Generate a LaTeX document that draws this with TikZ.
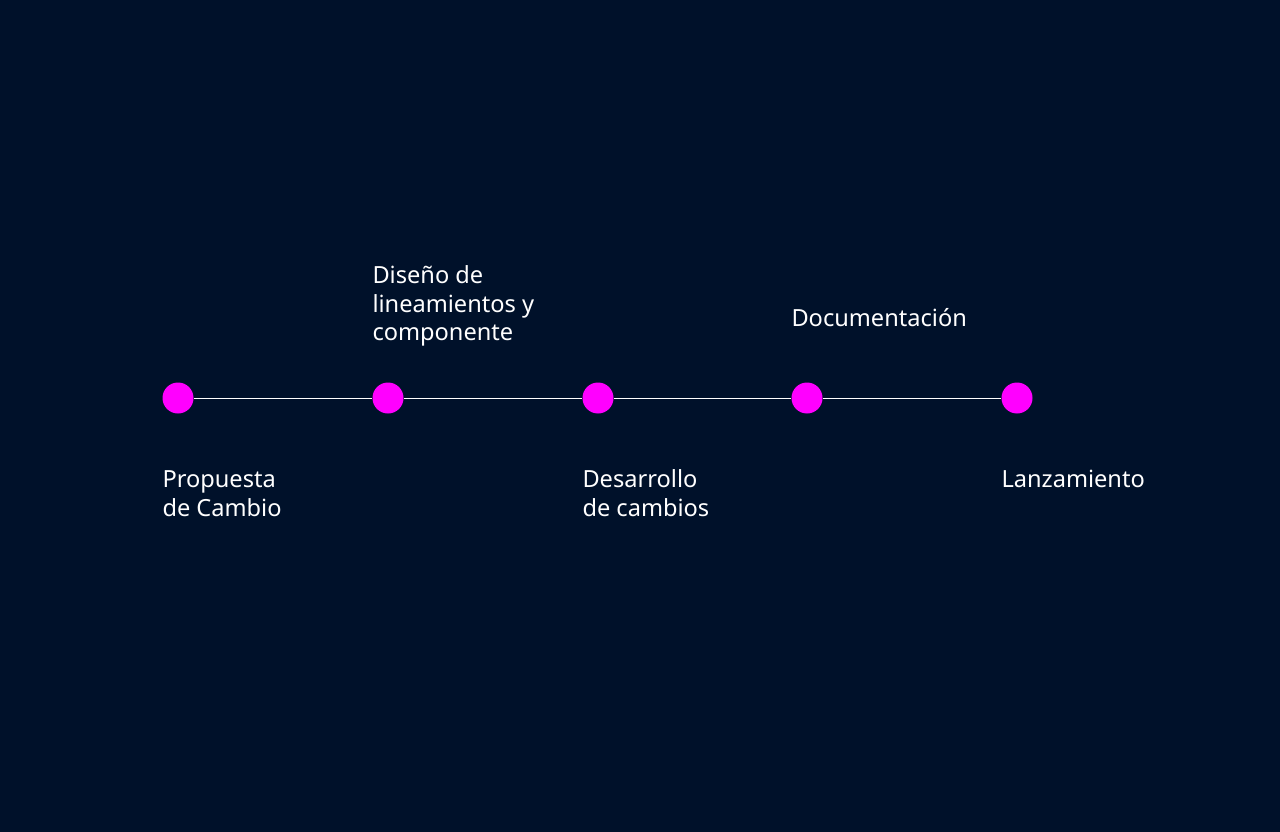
\documentclass[tikz,border=0pt]{standalone}
\usepackage{fontspec}
\setmainfont{Noto Sans}
\usetikzlibrary{positioning}

\definecolor{bgnavy}{HTML}{00112A}
\definecolor{dotmag}{HTML}{FF00FF}

\tikzset{
    hito/.style={circle, fill=dotmag, minimum size=31pt, inner sep=0pt},
    etiqueta/.style={text=white, inner sep=0pt, align=left,
        font=\fontsize{23.6pt}{28.7pt}\selectfont},
    enlace/.style={white, line width=1pt}
}

\begin{document}
\begin{tikzpicture}[x=1pt, y=-1pt]
    \fill[bgnavy] (0,0) rectangle (1280,832);
    \useasboundingbox (0,0) rectangle (1280,832);
    % hitos de la linea de tiempo
    \node[hito] (propuesta) at (178,398) {};
    \node[hito] (diseno) at (388,398) {};
    \node[hito] (desarrollo) at (598,398) {};
    \node[hito] (documentacion) at (807,398) {};
    \node[hito] (lanzamiento) at (1017,398) {};
    \draw[enlace] (propuesta) -- (diseno);
    \draw[enlace] (diseno) -- (desarrollo);
    \draw[enlace] (desarrollo) -- (documentacion);
    \draw[enlace] (documentacion) -- (lanzamiento);
    % etiquetas (base = ultima linea)
    \node[etiqueta, anchor=base west] (tpropuesta) at ([yshift=-118.2pt]propuesta.west) {Propuesta\\de Cambio};
    \node[etiqueta, anchor=base west] (tdiseno) at ([yshift=57.3pt]diseno.west) {Diseño de\\lineamientos y\\componente};
    \node[etiqueta, anchor=base west] (tdesarrollo) at ([yshift=-118.2pt]desarrollo.west) {Desarrollo\\de cambios};
    \node[etiqueta, anchor=base west] (tdocumentacion) at ([yshift=71.5pt]documentacion.west) {Documentación};
    \node[etiqueta, anchor=base west] (tlanzamiento) at ([yshift=-89.5pt]lanzamiento.west) {Lanzamiento};
\end{tikzpicture}
\end{document}
